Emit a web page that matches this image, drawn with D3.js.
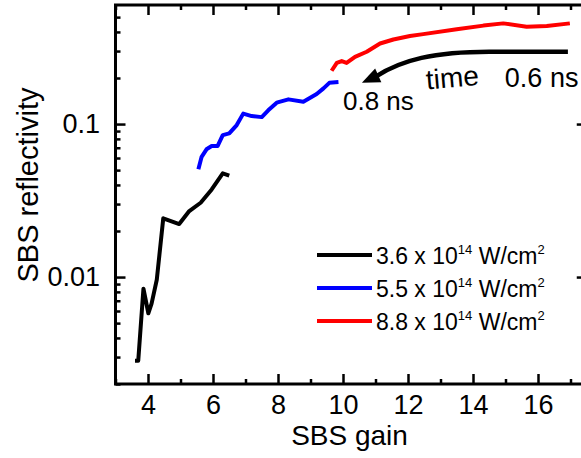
<!DOCTYPE html>
<html>
<head>
<meta charset="utf-8">
<script src="https://cdn.jsdelivr.net/npm/d3@7"></script>
<style>
    body { margin: 0; background: #fff; }
    text { font-family: "Liberation Sans", Arial, sans-serif; fill: #000; }
</style>
</head>
<body>
<script>
// SBS reflectivity vs SBS gain, three laser intensities
var seriesNames = ["3.6 x 10", "5.5 x 10", "8.8 x 10"];
var seriesColors = ["#000000", "#0000ff", "#ff0000"];

var blackGain = [3.60, 3.70, 3.86, 4.01, 4.11, 4.27, 4.47, 4.96, 5.27,
    5.62, 5.96, 6.30, 6.50];
var blackRefl = [0.00284, 0.00284, 0.0084, 0.0058, 0.0067, 0.0096, 0.0242,
    0.0222, 0.027, 0.0306, 0.0374, 0.0476, 0.046];

var blueGain = [5.55, 5.65, 5.80, 5.96, 6.14, 6.30, 6.50, 6.73, 6.93, 7.19,
    7.50, 7.70, 7.96, 8.32, 8.78, 9.19, 9.40, 9.58, 9.86];
var blueRefl = [0.0506, 0.0611, 0.0684, 0.0718, 0.0718, 0.0847, 0.0869,
    0.0985, 0.117, 0.1127, 0.111, 0.123, 0.138, 0.145, 0.140, 0.157, 0.171,
    0.186, 0.188];

var redGain = [9.65, 9.81, 9.96, 10.11, 10.37, 10.73, 11.14, 11.55, 12.06,
    12.47, 13.50, 14.32, 14.93, 15.65, 16.27, 16.98];
var redRefl = [0.223, 0.251, 0.258, 0.251, 0.275, 0.297, 0.336, 0.357,
    0.376, 0.387, 0.416, 0.44, 0.455, 0.433, 0.437, 0.455];

var xMajor = [4, 6, 8, 10, 12, 14, 16];
var xMinor = [3, 5, 7, 9, 11, 13, 15, 17];
var yMajor = [0.01, 0.1];
var yMajorLabels = ["0.01", "0.1"];
var yMinor = [0.002, 0.003, 0.004, 0.005, 0.006, 0.007, 0.008, 0.009,
    0.02, 0.03, 0.04, 0.05, 0.06, 0.07, 0.08, 0.09,
    0.2, 0.3, 0.4, 0.5];

var margin = {top: 5, left: 115.5},
    width = 14.5 * 32.5,
    height = 379;

var svg = d3.select("body").append("svg")
    .attr("width", 581)
    .attr("height", 458)
    .append("g")
    .attr("transform", "translate(" + margin.left + "," + margin.top + ")");

var xScale = d3.scaleLinear().domain([3, 17.5]).range([0, width]);
var yScale = d3.scaleLog().domain([0.002, 0.6]).range([height, 0]);

// ticks all point inward
function styleAxis(g) {
    g.select(".domain").remove();
    g.selectAll("line").attr("stroke", "#000").attr("stroke-width", 2.5);
    g.selectAll("text").attr("font-size", "27px")
        .style("font-family", "'Liberation Sans', Arial, sans-serif");
}

// bottom
svg.append("g").attr("transform", "translate(0," + height + ")")
    .call(d3.axisBottom(xScale).tickValues(xMajor).tickSizeInner(-10)
        .tickSizeOuter(0).tickPadding(11))
    .call(styleAxis);
svg.append("g").attr("transform", "translate(0," + height + ")")
    .call(d3.axisBottom(xScale).tickValues(xMinor).tickSizeInner(-5)
        .tickSizeOuter(0).tickFormat(""))
    .call(styleAxis);
// top
svg.append("g")
    .call(d3.axisTop(xScale).tickValues(xMajor).tickSizeInner(-10)
        .tickSizeOuter(0).tickFormat(""))
    .call(styleAxis);
svg.append("g")
    .call(d3.axisTop(xScale).tickValues(xMinor).tickSizeInner(-5)
        .tickSizeOuter(0).tickFormat(""))
    .call(styleAxis);
// left
svg.append("g")
    .call(d3.axisLeft(yScale).tickValues(yMajor).tickSizeInner(-10)
        .tickSizeOuter(0).tickPadding(15.5)
        .tickFormat(function(d, i) { return yMajorLabels[i]; }))
    .call(styleAxis);
svg.append("g")
    .call(d3.axisLeft(yScale).tickValues(yMinor).tickSizeInner(-5)
        .tickSizeOuter(0).tickFormat(""))
    .call(styleAxis);
// right
svg.append("g").attr("transform", "translate(" + width + ",0)")
    .call(d3.axisRight(yScale).tickValues(yMajor).tickSizeInner(-10)
        .tickSizeOuter(0).tickFormat(""))
    .call(styleAxis);
svg.append("g").attr("transform", "translate(" + width + ",0)")
    .call(d3.axisRight(yScale).tickValues(yMinor).tickSizeInner(-5)
        .tickSizeOuter(0).tickFormat(""))
    .call(styleAxis);

// frame
svg.append("rect")
    .attr("width", width).attr("height", height)
    .attr("fill", "none").attr("stroke", "#000").attr("stroke-width", 3);

// data lines
var series = [
    {gain: blackGain, refl: blackRefl},
    {gain: blueGain, refl: blueRefl},
    {gain: redGain, refl: redRefl}
];

var line = d3.line()
    .x(function(d) { return xScale(d[0]); })
    .y(function(d) { return yScale(d[1]); });

svg.selectAll(".series")
    .data(series)
    .enter()
    .append("path")
    .attr("class", "series")
    .attr("d", function(s) { return line(d3.zip(s.gain, s.refl)); })
    .attr("fill", "none")
    .attr("stroke", function(d, i) { return seriesColors[i]; })
    .attr("stroke-width", 4)
    .attr("stroke-linejoin", "round");

// legend
var legend = svg.append("g").attr("class", "legend");
seriesNames.forEach(function(name, i) {
    var yy = 255 + i * 33 - margin.top;
    legend.append("line")
        .attr("x1", 317 - margin.left).attr("x2", 372 - margin.left)
        .attr("y1", yy).attr("y2", yy)
        .attr("stroke", seriesColors[i]).attr("stroke-width", 4);
    var t = legend.append("text")
        .attr("x", 376 - margin.left).attr("y", yy + 9)
        .attr("font-size", "23px");
    t.append("tspan").text(name);
    t.append("tspan").attr("font-size", "13px").attr("dy", -10).text("14");
    t.append("tspan").attr("dy", 10).text(" W/cm");
    t.append("tspan").attr("font-size", "13px").attr("dy", -10).text("2");
});

// time arrow
var p0 = [xScale(16.92), yScale(0.297)],
    p1 = [xScale(14.5), yScale(0.297)],
    c1 = [xScale(12.8), yScale(0.297)],
    c2 = [xScale(11.8), yScale(0.262)],
    p2 = [xScale(11.02), yScale(0.205)],
    tip = [xScale(10.58), yScale(0.186)];

svg.append("path")
    .attr("d", "M" + p0 + "L" + p1 + "C" + c1 + " " + c2 + " " + p2)
    .attr("fill", "none").attr("stroke", "#000").attr("stroke-width", 4.5);

var dx = tip[0] - p2[0], dy = tip[1] - p2[1],
    len = Math.sqrt(dx * dx + dy * dy),
    ux = dx / len, uy = dy / len,
    back = 18, half = 7.5;
var bx = tip[0] - ux * back, by = tip[1] - uy * back;
svg.append("path")
    .attr("d", "M" + tip + "L" + [bx - uy * half, by + ux * half] +
        "L" + [bx + uy * half, by - ux * half] + "Z")
    .attr("fill", "#000");

svg.append("text")
    .attr("transform", "translate(" + xScale(12.58) + "," + yScale(0.168) +
        ") rotate(-5)")
    .attr("font-size", "28px")
    .text("time");
svg.append("text")
    .attr("x", xScale(14.98)).attr("y", yScale(0.174))
    .attr("font-size", "27px")
    .text("0.6 ns");
svg.append("text")
    .attr("x", xScale(10.0)).attr("y", yScale(0.123))
    .attr("font-size", "26px")
    .text("0.8 ns");

// axis titles
svg.append("text")
    .attr("x", xScale(10.2)).attr("y", 445 - margin.top)
    .attr("text-anchor", "middle")
    .attr("font-size", "28px")
    .text("SBS gain");
svg.append("text")
    .attr("transform", "translate(" + (38 - margin.left) + "," +
        (185 - margin.top) + ") rotate(-90)")
    .attr("text-anchor", "middle")
    .attr("font-size", "29px")
    .text("SBS reflectivity");
</script>
</body>
</html>
